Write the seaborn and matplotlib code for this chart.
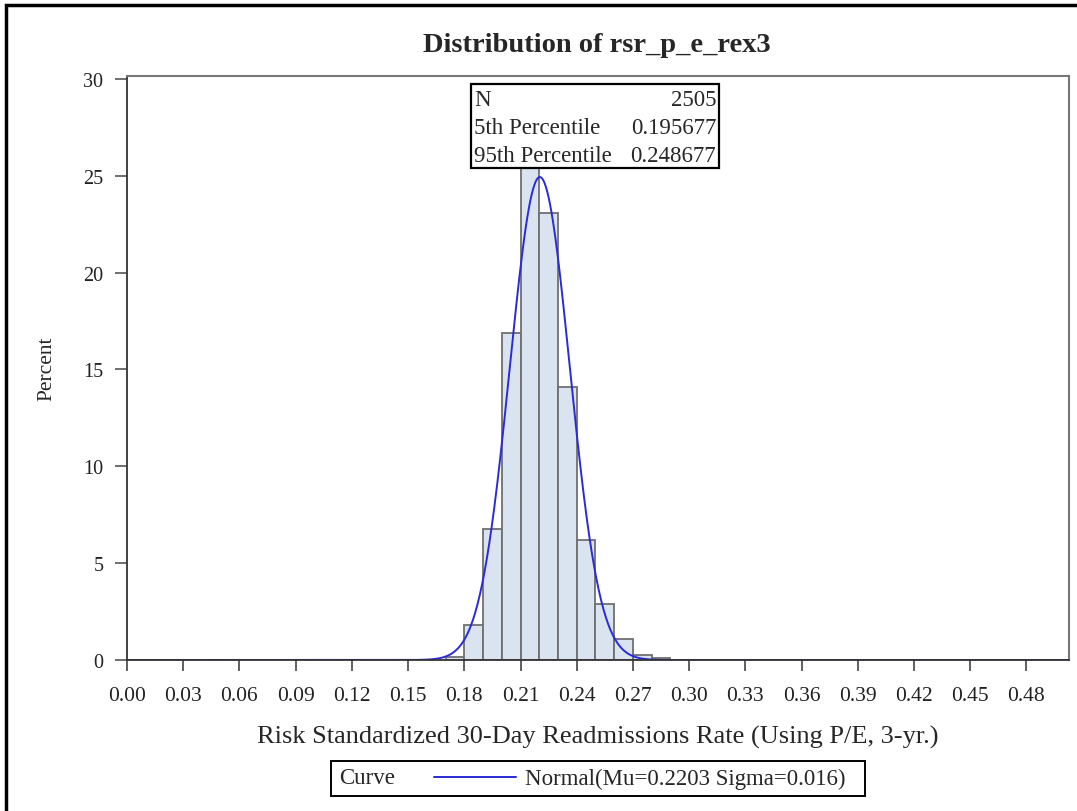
import numpy as np
import pandas as pd
import matplotlib.pyplot as plt
import seaborn as sns
from matplotlib.patches import Rectangle
from matplotlib.lines import Line2D

# histogram bins (width 0.01) and percent per bin
bin_left = [0.17, 0.18, 0.19, 0.20, 0.21, 0.22, 0.23, 0.24, 0.25, 0.26, 0.27, 0.28]
percent = [0.15, 1.8, 6.75, 16.9, 26.3, 23.1, 14.1, 6.2, 2.9, 1.1, 0.25, 0.12]
BIN_W = 0.01

# fitted normal shown in legend
MU = 0.2203
SIGMA = 0.016

stat_names = ["N", "5th Percentile", "95th Percentile"]
stat_values = ["2505", "0.195677", "0.248677"]

x_ticks = [round(0.03 * i, 2) for i in range(17)]
y_ticks = [0, 5, 10, 15, 20, 25, 30]

sns.set_style("white")
plt.rcParams['font.family'] = ['Liberation Serif', 'DejaVu Serif']

df = pd.DataFrame({"mid": np.array(bin_left) + BIN_W / 2, "pct": percent})
edges = list(bin_left) + [bin_left[-1] + BIN_W]


def px(xp, yp):
    # pixel position in the 1077x812 picture -> figure fraction
    return (xp / 1077, 1 - yp / 812)


fig = plt.figure(figsize=(10.77, 8.12), dpi=100)
ax = fig.add_axes([127 / 1077, 1 - 661 / 812, 942 / 1077, 584 / 812])

sns.histplot(data=df, x="mid", weights="pct", bins=edges, stat="count",
             color="#dae4f1", edgecolor="#6f6f6f", linewidth=1.3, alpha=1, ax=ax)

xs = np.linspace(0, 0.503, 1200)
curve = pd.DataFrame({"x": xs,
                      "y": 100 * BIN_W / (SIGMA * np.sqrt(2 * np.pi)) * np.exp(-0.5 * ((xs - MU) / SIGMA) ** 2)})
sns.lineplot(data=curve, x="x", y="y", color="#2a2ad8", linewidth=1.4, ax=ax)

ax.set_xlim(0, 0.5027)
ax.set_ylim(0, 30.15)
ax.set_xticks(x_ticks)
ax.set_xticklabels([f"{t:.2f}" for t in x_ticks])
ax.set_yticks(y_ticks)
ax.tick_params(axis="both", bottom=True, left=True, direction="out", colors="#222222")
ax.tick_params(axis="x", labelsize=15.5, length=8, width=1.2, color="#444444", pad=11)
ax.tick_params(axis="y", labelsize=14.5, length=9, width=1.2, color="#555555", pad=8)
for s in ["top", "right"]:
    ax.spines[s].set_color("#777777")
    ax.spines[s].set_linewidth(1.5)
for s in ["left", "bottom"]:
    ax.spines[s].set_color("#333333")
    ax.spines[s].set_linewidth(1.3)
ax.set_xlabel("Risk Standardized 30-Day Readmissions Rate (Using P/E, 3-yr.)", fontsize=19, labelpad=14)
ax.set_ylabel("Percent", fontsize=15.5, labelpad=19)
fig.text(*px(597, 45), "Distribution of rsr_p_e_rex3", ha="center", va="center",
         fontsize=20.5, fontweight="bold")

# stats inset box
bx0, by0 = px(471, 169)
bx1, by1 = px(719, 85)
fig.add_artist(Rectangle((bx0, by0), bx1 - bx0, by1 - by0, transform=fig.transFigure,
                         facecolor="white", edgecolor="black", linewidth=1.6, zorder=5))
for i, (nm, val) in enumerate(zip(stat_names, stat_values)):
    yp = 101 + 27.5 * i
    fig.text(*px(474, yp), nm, ha="left", va="center", fontsize=16.5, zorder=6)
    fig.text(*px(716, yp), val, ha="right", va="center", fontsize=16.5, zorder=6)

# legend box below
lx0, ly0 = px(331, 797)
lx1, ly1 = px(865, 762)
fig.add_artist(Rectangle((lx0, ly0), lx1 - lx0, ly1 - ly0, transform=fig.transFigure,
                         facecolor="white", edgecolor="black", linewidth=1.4))
fig.text(*px(339, 779), "Curve", ha="left", va="center", fontsize=16.5)
fig.add_artist(Line2D([434 / 1077, 516 / 1077], [1 - 778 / 812, 1 - 778 / 812],
                      transform=fig.transFigure, color="#2a2ad8", linewidth=1.4))
fig.text(*px(525, 779), f"Normal(Mu={MU} Sigma={SIGMA})", ha="left",
         va="center", fontsize=16.5)

# outer frame of the graph area
fig.add_artist(Rectangle((5.5 / 1077, -0.1), 1.2, 1.1 - 6 / 812, transform=fig.transFigure,
                         fill=False, edgecolor="black", linewidth=2.5))

fig.savefig("out.png", dpi=100)
